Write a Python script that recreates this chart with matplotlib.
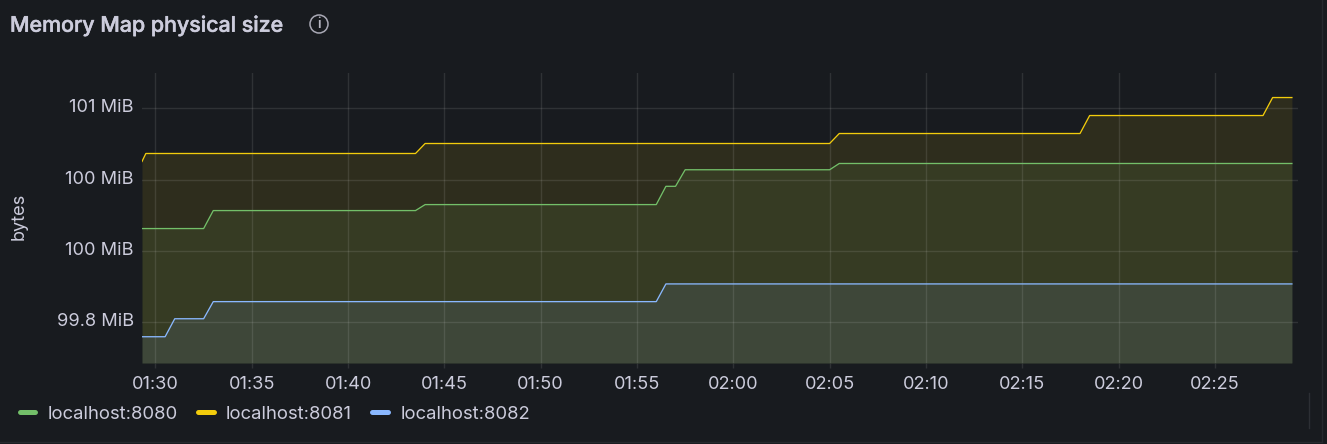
import matplotlib
matplotlib.use("Agg")
import matplotlib.pyplot as plt
import matplotlib.dates as mdates
from matplotlib.transforms import ScaledTranslation
import pandas as pd
from matplotlib.lines import Line2D
from matplotlib.patches import Circle

plt.rcParams['font.family'] = ['Inter', 'DejaVu Sans']

# --- data (MiB over time) ---
title = "Memory Map physical size"
y_label = "bytes"
names = ["localhost:8080", "localhost:8081", "localhost:8082"]

times_8080 = ["01:29:18", "01:32:30", "01:33:00", "01:43:30", "01:44:00", "01:56:00", "01:56:30",
              "01:57:00", "01:57:30", "02:05:00", "02:05:30", "02:29:00"]
mib_8080 = [100.079, 100.079, 100.142, 100.142, 100.163, 100.163, 100.227,
            100.227, 100.285, 100.285, 100.307, 100.307]

times_8081 = ["01:29:18", "01:29:30", "01:43:30", "01:44:00", "02:05:00", "02:05:30",
              "02:18:00", "02:18:30", "02:27:30", "02:28:00", "02:29:00"]
mib_8081 = [100.314, 100.342, 100.342, 100.377, 100.377, 100.412,
            100.412, 100.475, 100.475, 100.538, 100.538]

times_8082 = ["01:29:18", "01:30:30", "01:31:00", "01:32:30", "01:33:00", "01:56:00", "01:56:30", "02:29:00"]
mib_8082 = [99.700, 99.700, 99.763, 99.763, 99.823, 99.823, 99.885, 99.885]

y_ticks = [99.75, 100.0, 100.25, 100.5]
y_tick_labels = ["99.8 MiB", "100 MiB", "100 MiB", "101 MiB"]
y_limits = (99.608, 100.624)
x_limits = ("01:29:18", "02:29:19")

# --- styles ---
BG = "#181b1f"
TEXT = "#ccccdc"
GRID = "#ffffff"
colors = ["#73bf69", "#f2cc0c", "#8ab8ff"]
FILL_ALPHA = 0.10
TICK_SIZE = 13.1


def to_dt(values):
    return pd.to_datetime(["2024-01-01 " + v for v in values])


fig = plt.figure(figsize=(13.27, 4.44), dpi=100, facecolor=BG)
W, H = 1327, 444
ax = fig.add_axes([142 / W, 1 - 363 / H, (1298 - 142) / W, (363 - 73) / H])
ax.set_facecolor(BG)
for s in ax.spines.values():
    s.set_visible(False)

series = [(times_8080, mib_8080), (times_8081, mib_8081), (times_8082, mib_8082)]
handles = []
for (t, v), c, n in zip(series, colors, names):
    x = to_dt(t)
    ax.fill_between(x, v, y_limits[0], color=c, alpha=FILL_ALPHA, linewidth=0, zorder=1)
    ax.plot(x, v, color=c, lw=0.95, zorder=3, solid_joinstyle="round")
    handles.append(Line2D([0], [0], color=c, lw=3.6, solid_capstyle="round", label=n))

ax.set_xlim(*mdates.date2num(to_dt(x_limits)))
ax.set_ylim(*y_limits)

ax.xaxis.set_major_locator(mdates.MinuteLocator(byminute=range(0, 60, 5)))
ax.xaxis.set_major_formatter(mdates.DateFormatter("%H:%M"))
ax.set_yticks(y_ticks)
ax.set_yticklabels(y_tick_labels)

ax.set_axisbelow(False)
ax.grid(True, color=GRID, alpha=0.10, lw=1.0)
ax.tick_params(axis="x", length=3.6, width=1.0, color=(1, 1, 1, 0.10), labelcolor=TEXT,
               labelsize=TICK_SIZE, pad=5.5)
ax.tick_params(axis="y", length=0, labelcolor=TEXT, labelsize=TICK_SIZE, pad=6)
for lab in ax.get_yticklabels():
    lab.set_transform(lab.get_transform() + ScaledTranslation(0, 2.5 / 100, fig.dpi_scale_trans))

fig.text(19 / W, 1 - 216 / H, y_label, rotation=90, color=TEXT, fontsize=TICK_SIZE, ha="center", va="center")
fig.text(10 / W, 1 - 25.5 / H, title, color=TEXT, fontsize=15.4, fontweight=500, ha="left", va="center",
         path_effects=[__import__("matplotlib.patheffects", fromlist=["withStroke"]).withStroke(linewidth=0.35, foreground=TEXT)])

# info icon
fig.add_artist(Circle((319, 444 - 24), 9, transform=None, fill=False, ec="#a9a9b5", lw=1.1))
fig.text(319 / W, 1 - 24 / H, "i", color="#b5b5c0", fontsize=10, fontweight=600, ha="center", va="center")

leg = fig.legend(handles=handles, loc="center left", bbox_to_anchor=(19.5 / W, 1 - 414 / H),
                 bbox_transform=fig.transFigure, ncol=3, frameon=False, fontsize=13.3,
                 handlelength=0.86, handletextpad=0.66, columnspacing=1.09, borderpad=0,
                 borderaxespad=0)
for t in leg.get_texts():
    t.set_color(TEXT)

# panel border and resize handle
fig.add_artist(Line2D([0, 1322], [2, 2], transform=None, color="#26292e", lw=1))
fig.add_artist(Line2D([1322, 1322], [2, 444], transform=None, color="#26292e", lw=1))
fig.add_artist(Line2D([1308.5, 1308.5], [16, 51], transform=None, color="#2c2f34", lw=1))

fig.savefig("out.png", dpi=100, facecolor=BG)
